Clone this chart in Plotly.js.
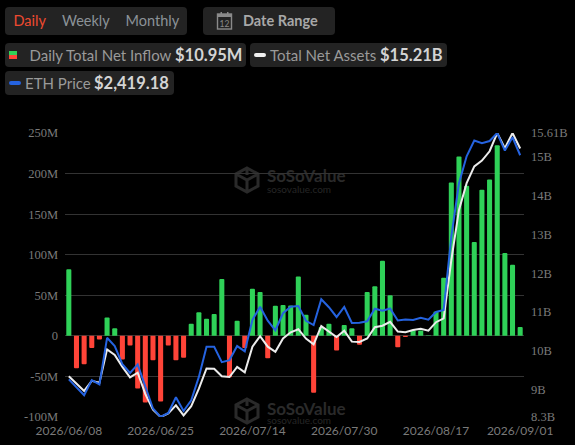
<!DOCTYPE html>
<html><head><meta charset="utf-8">
<script src="https://cdn.plot.ly/plotly-3.0.1.min.js"></script>
<style>
html,body{margin:0;padding:0;background:#000;width:575px;height:445px;overflow:hidden;font-family:Lato,sans-serif}
#chart{position:absolute;left:0;top:0;width:575px;height:445px}
.box{position:absolute;background:#232323;border-radius:4px}
.t{position:absolute;white-space:nowrap;line-height:20px;font-size:15px;color:#9a9a9a}
.v{position:absolute;white-space:nowrap;line-height:20px;font-size:16.5px;font-weight:700;color:#d4d4d4}
.bar{position:absolute;border-radius:2px}
svg.ic{position:absolute}
.wm{position:absolute;white-space:nowrap;font-weight:700;font-size:17px;line-height:18px;color:#2a2a2a}
.wms{position:absolute;white-space:nowrap;font-size:10px;line-height:10px;color:#262626}
</style></head><body>
<svg class="ic" style="left:234px;top:166px" width="26" height="28" viewBox="0 0 26 28"><path d="M13 2 L24 8 V20 L13 26 L2 20 V8 Z M13 2 V9 M2 8 L13 14 L24 8 M13 14 V26" fill="none" stroke="#2a2a2a" stroke-width="3"/></svg>
<div class="wm" style="left:267px;top:167px">SoSoValue</div>
<div class="wms" style="left:267px;top:184px">sosovalue.com</div>
<svg class="ic" style="left:234px;top:397px" width="26" height="28" viewBox="0 0 26 28"><path d="M13 2 L24 8 V20 L13 26 L2 20 V8 Z M13 2 V9 M2 8 L13 14 L24 8 M13 14 V26" fill="none" stroke="#2a2a2a" stroke-width="3"/></svg>
<div class="wm" style="left:267px;top:400px">SoSoValue</div>
<div class="wms" style="left:267px;top:415px">sosovalue.com</div>
<div id="chart"></div>
<div class="box" style="left:5px;top:7px;width:182px;height:28px"></div>
<div class="t" style="left:13.5px;top:11px;font-size:14.5px;color:#ee4a30">Daily</div>
<div class="t" style="left:62px;top:11px;font-size:14.5px;color:#8b9298">Weekly</div>
<div class="t" style="left:125.5px;top:11px;font-size:14.5px;color:#8b9298">Monthly</div>
<div class="box" style="left:203px;top:7px;width:132px;height:28px"></div>
<svg class="ic" style="left:216px;top:11px" width="18" height="20" viewBox="0 0 18 20"><rect x="1.5" y="3" width="14" height="15" fill="none" stroke="#8a8a8a" stroke-width="1.4"/><rect x="1.5" y="3" width="14" height="3" fill="#8a8a8a"/><rect x="4.5" y="1" width="1.5" height="3.5" fill="#8a8a8a"/><rect x="11" y="1" width="1.5" height="3.5" fill="#8a8a8a"/><text x="8.5" y="15.5" text-anchor="middle" font-size="8.5" fill="#8a8a8a" font-family="Lato">12</text></svg>
<div class="t" style="left:243px;top:11px;font-size:14.5px;font-weight:700;color:#a8a8a8">Date Range</div>
<div class="box" style="left:5px;top:43px;width:241px;height:24px"></div>
<div class="bar" style="left:9px;top:51px;width:8px;height:4px;background:#2fd158;border-radius:0"></div>
<div class="bar" style="left:9px;top:55px;width:8px;height:4px;background:#ff4438;border-radius:0"></div>
<div class="t" style="left:29.5px;top:45px">Daily Total Net Inflow</div>
<div class="v" style="left:175px;top:45px">$10.95M</div>
<div class="box" style="left:250px;top:43px;width:197px;height:24px"></div>
<div class="bar" style="left:254px;top:53px;width:12px;height:4px;background:#f0f0f0"></div>
<div class="t" style="left:270px;top:45px">Total Net Assets</div>
<div class="v" style="left:380px;top:45px">$15.21B</div>
<div class="box" style="left:5px;top:71px;width:169px;height:24px"></div>
<div class="bar" style="left:9px;top:81px;width:12px;height:4px;background:#2563e0"></div>
<div class="t" style="left:25px;top:73px">ETH Price</div>
<div class="v" style="left:94px;top:73px">$2,419.18</div>
<script>
const dates = ["2026/06/08","2026/06/09","2026/06/10","2026/06/11","2026/06/12","2026/06/15","2026/06/16","2026/06/17","2026/06/18","2026/06/22","2026/06/23","2026/06/24","2026/06/25","2026/06/26","2026/06/29","2026/06/30","2026/07/01","2026/07/02","2026/07/06","2026/07/07","2026/07/08","2026/07/09","2026/07/10","2026/07/13","2026/07/14","2026/07/15","2026/07/16","2026/07/17","2026/07/20","2026/07/21","2026/07/22","2026/07/23","2026/07/24","2026/07/27","2026/07/28","2026/07/29","2026/07/30","2026/07/31","2026/08/03","2026/08/04","2026/08/05","2026/08/06","2026/08/07","2026/08/10","2026/08/11","2026/08/12","2026/08/13","2026/08/14","2026/08/17","2026/08/18","2026/08/19","2026/08/20","2026/08/21","2026/08/24","2026/08/25","2026/08/26","2026/08/27","2026/08/28","2026/08/31","2026/09/01"];
const netInflowM = [82,-40,-35,-15,-4.5,22.5,9.5,-29,-12,-65,-82,-30,-81,-12,-30,-27,15,29,21,27,70,-51,18.5,-15,58,54,-27.5,37,38,37.5,73,26,-70,11,15,-18,13.5,9.5,-11,54,61,92.5,50,-14,-1.5,7,6.5,0.5,30,71.5,189,221,185,115.6,180,192.6,235,102,87.6,10.95];
const netAssetsB = [9.35,9.16,8.97,9.23,9.18,10.04,9.90,9.59,9.32,9.44,8.89,8.49,8.30,8.39,8.60,8.34,8.58,9.03,9.55,9.54,9.35,9.33,9.59,9.45,10.11,10.38,10.11,9.98,10.32,10.48,10.56,10.32,10.17,10.64,10.49,10.36,10.52,10.24,10.23,10.32,10.61,10.65,10.75,10.50,10.48,10.54,10.57,10.52,10.74,10.84,12.34,13.63,14.32,14.75,14.90,15.14,15.61,15.22,15.61,15.21];
const ethPrice = [1525,1495,1462,1522,1505,1691,1658,1586,1551,1585,1495,1409,1375,1391,1454,1399,1442,1535,1655,1655,1594,1602,1658,1637,1762,1815,1759,1721,1789,1815,1818,1759,1742,1845,1813,1774,1814,1750,1751,1757,1807,1799,1808,1760,1764,1762,1771,1763,1794,1802,2095,2308,2415,2478,2467,2476,2508,2438,2491,2419.18];
const leftTickVals = [-100,-50,0,50,100,150,200,250];
const leftTickText = ["-100M","-50M","0","50M","100M","150M","200M","250M"];
const rightTickVals = [8.3,9,10,11,12,13,14,15,15.61];
const rightTickText = ["8.3B","9B","10B","11B","12B","13B","14B","15B","15.61B"];
const xTickDates = ["2026/06/08","2026/06/25","2026/07/14","2026/07/30","2026/08/17","2026/09/01"];
const leftRange = [-100,250], rightRange = [8.3,15.61], ethRange = [1375,2508];

const yFont = {family:"'Liberation Serif', serif", size:12.5, color:"#7a7a7a"};
const xFont = {family:"Lato, sans-serif", size:12, color:"#7a7a7a"};
const traces = [
 {type:"bar", x:dates, y:netInflowM, yaxis:"y", width:0.66,
  marker:{color:netInflowM.map(v=>v>=0?"#2fd158":"#ff4438"), cornerradius:1.5, line:{width:0}}, hoverinfo:"skip"},
 {type:"scatter", mode:"lines", x:dates, y:netAssetsB, yaxis:"y2", line:{color:"#ececec",width:2}, hoverinfo:"skip"},
 {type:"scatter", mode:"lines", x:dates, y:ethPrice, yaxis:"y3", line:{color:"#2563e0",width:2}, hoverinfo:"skip"}
];
const layout = {
 width:575, height:445, showlegend:false,
 paper_bgcolor:"rgba(0,0,0,0)", plot_bgcolor:"rgba(0,0,0,0)",
 margin:{l:65, r:51, t:133.3, b:28.3, pad:0},
 font:xFont,
 xaxis:{type:"category", categoryorder:"array", categoryarray:dates, range:[-0.5,59.5],
   tickmode:"array", tickvals:xTickDates, ticktext:xTickDates, showgrid:false, zeroline:false, showline:false, ticks:"", tickfont:xFont, tickangle:0, automargin:false, ticklabelstandoff:5},
 yaxis:{range:leftRange, tickmode:"array", tickvals:leftTickVals, ticktext:leftTickText, gridcolor:"#333333", gridwidth:1, zeroline:false, showline:false, ticks:"", tickfont:yFont, ticklabelstandoff:6, automargin:false},
 yaxis2:{overlaying:"y", side:"right", range:rightRange, tickmode:"array", tickvals:rightTickVals, ticktext:rightTickText, showgrid:false, zeroline:false, showline:false, ticks:"", tickfont:yFont, ticklabelstandoff:6, automargin:false},
 yaxis3:{overlaying:"y", side:"right", range:ethRange, visible:false}
};
Plotly.newPlot("chart", traces, layout, {displayModeBar:false, staticPlot:true});
</script>
</body></html>
